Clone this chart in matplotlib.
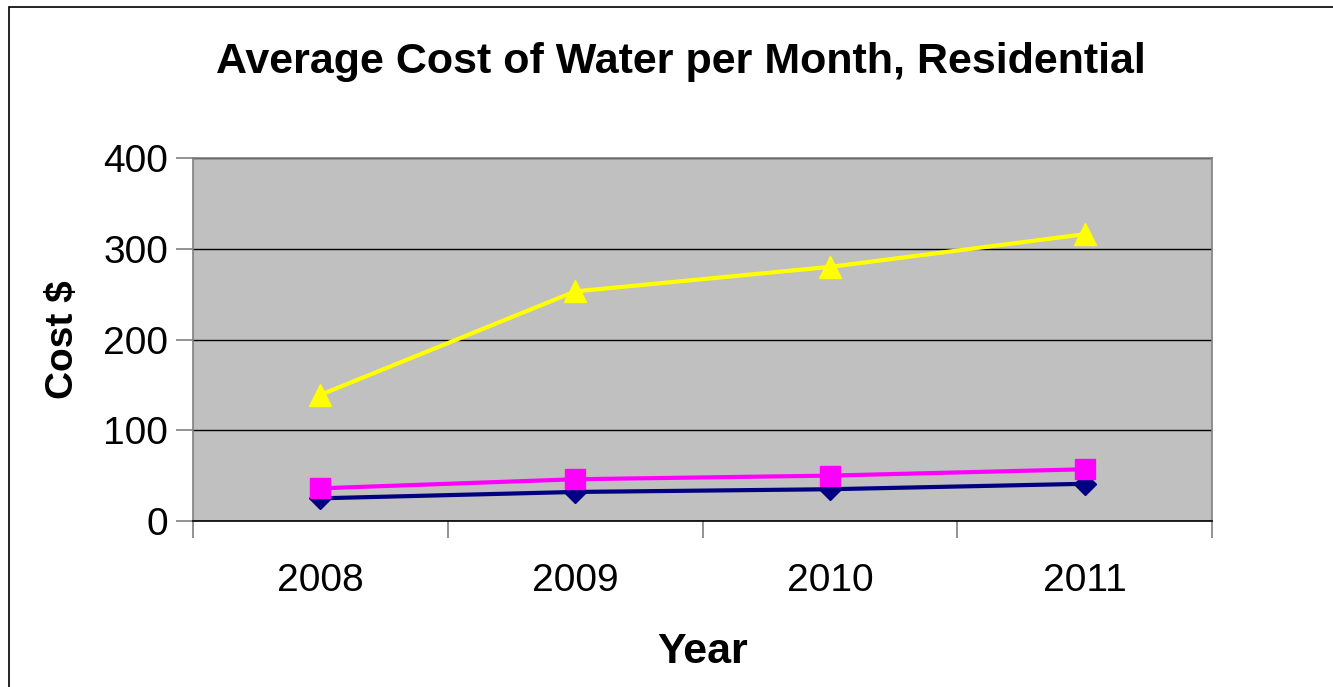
import matplotlib
matplotlib.use('Agg')
import matplotlib.pyplot as plt
from matplotlib.patches import Rectangle

years = ['2008', '2009', '2010', '2011']
series_navy = [25, 32, 35, 41]
series_pink = [36, 46, 50, 57]
series_yellow = [139, 253, 280, 316]
y_ticks = [0, 100, 200, 300, 400]

plt.rcParams['font.family'] = ['Liberation Sans', 'DejaVu Sans']

W, H = 1333, 687
fig = plt.figure(figsize=(W / 100, H / 100), dpi=100)
ax = fig.add_axes([193 / W, 1 - 521 / H, (1212 - 193) / W, (521 - 158) / H])

x = list(range(len(years)))
ax.plot(x, series_navy, color='#000080', lw=3, marker='D', ms=11, zorder=3)
ax.plot(x, series_pink, color='#FF00FF', lw=3, marker='s', ms=14, zorder=4)
ax.plot(x, series_yellow, color='#FFFF00', lw=3, marker='^', ms=16, zorder=5)

ax.set_facecolor('#C0C0C0')
ax.set_xlim(-0.5, len(years) - 0.5)
ax.set_ylim(0, 400)
ax.set_yticks(y_ticks)
ax.set_yticklabels([str(v) for v in y_ticks], fontsize=28)
ax.yaxis.grid(True, color='black', lw=1)
ax.set_axisbelow(True)

# category boundaries get the tick marks, the labels sit between them
ax.set_xticks([i - 0.5 for i in range(len(years) + 1)])
ax.set_xticklabels([])
ax.set_xticks(x, minor=True)
ax.set_xticklabels(years, minor=True, fontsize=28)
ax.tick_params(axis='x', which='minor', length=0, pad=30)
ax.tick_params(axis='x', which='major', length=12, color='#808080', width=1.2)
ax.tick_params(axis='y', length=12, color='#808080', width=1.2, pad=6)

for s in ax.spines.values():
    s.set_color('#808080')
    s.set_linewidth(1.2)
ax.spines['bottom'].set_color('black')

ax.set_xlabel('Year', fontsize=31, fontweight='bold', labelpad=24)
ax.set_ylabel('Cost $', fontsize=28, fontweight='bold', labelpad=16)
fig.text(681 / W, 1 - 62 / H, 'Average Cost of Water per Month, Residential',
         fontsize=31, fontweight='bold', ha='center', va='center')

fig.patches.append(Rectangle((9 / W, -0.1), 1.2, 1 - 7 / H + 0.1, transform=fig.transFigure,
                             fill=False, edgecolor='black', lw=1.2))

fig.savefig('out.png', dpi=100)
